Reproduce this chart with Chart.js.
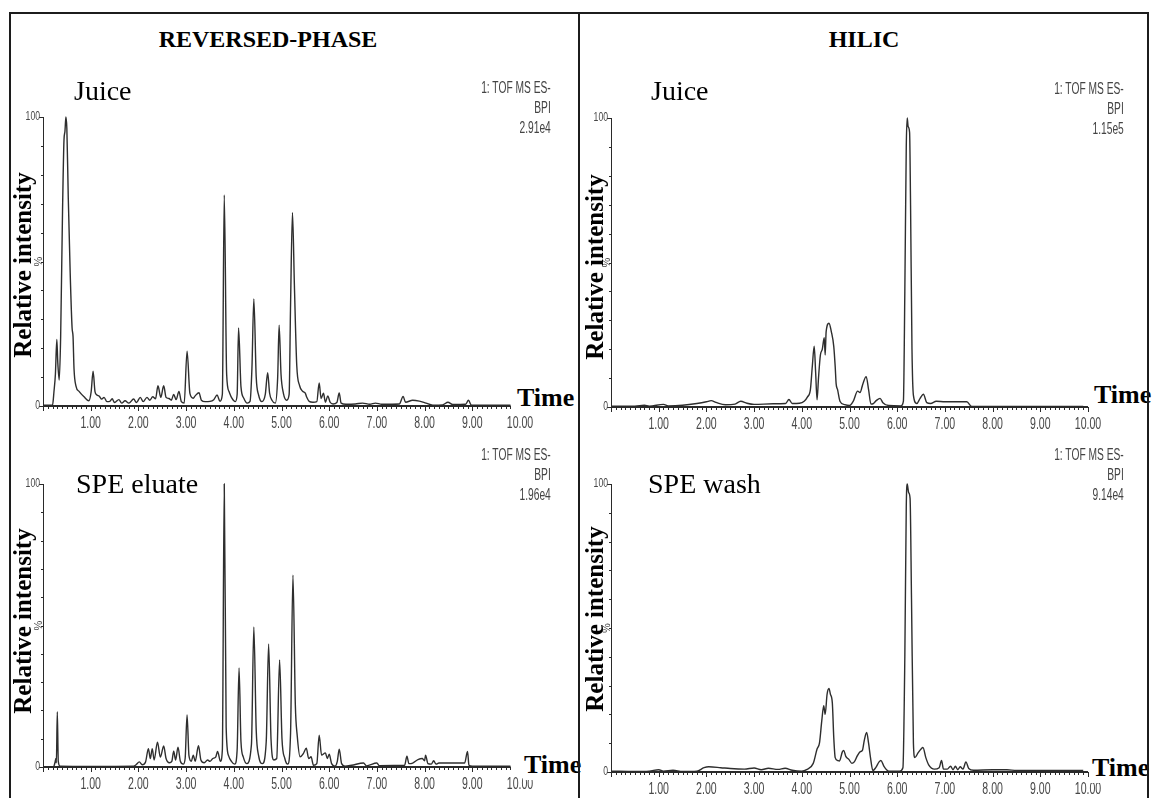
<!DOCTYPE html>
<html>
<head>
<meta charset="utf-8">
<title>Chromatograms</title>
<script src="https://cdn.jsdelivr.net/npm/chart.js@4.4.1/dist/chart.umd.min.js"></script>
<style>
  html, body { margin: 0; padding: 0; background: #fff; }
  #page { position: relative; width: 1152px; height: 798px; overflow: hidden; background: #fff; }
  canvas { position: absolute; }
  .rule { position: absolute; background: #1c1c1c; z-index: 5; }
  .t { position: absolute; white-space: nowrap; line-height: 1; color: #000; z-index: 3; }
  .head { font: bold 24px "Liberation Serif", serif; transform: translateX(-50%); }
  .sample { font: 28px "Liberation Serif", serif; }
  .yname { font: bold 25px "Liberation Serif", serif; transform: translate(-50%, -50%) rotate(-90deg); }
  .time { font: bold 26px "Liberation Serif", serif; background: #fff; padding: 0 2px 0 1px; }
  .acq { font: 16px "Liberation Sans", Arial, sans-serif; color: #444; text-align: right;
         line-height: 20px; transform: scaleX(0.64); transform-origin: right top; }
</style>
</head>
<body>
<div id="page">
  <div class="rule" style="left:9px; top:12px; width:2px; height:786px"></div>
  <div class="rule" style="left:9px; top:12px; width:1140px; height:2px"></div>
  <div class="rule" style="left:1147px; top:12px; width:2px; height:786px"></div>
  <div class="rule" style="left:578px; top:12px; width:2px; height:786px"></div>

  <div class="t head" style="left:268px; top:26px">REVERSED-PHASE</div>
  <div class="t head" style="left:864px; top:26px">HILIC</div>

  <canvas id="rpJuice" width="545" height="340" style="left:0px; top:100px"></canvas>
  <canvas id="hilicJuice" width="545" height="340" style="left:568px; top:101px"></canvas>
  <canvas id="rpEluate" width="545" height="334" style="left:0px; top:467px"></canvas>
  <canvas id="hilicWash" width="545" height="339" style="left:568px; top:467px"></canvas>

  <div class="t sample" style="left:74px; top:75px">Juice</div>
  <div class="t sample" style="left:651px; top:75px">Juice</div>
  <div class="t sample" style="left:76px; top:468px">SPE eluate</div>
  <div class="t sample" style="left:648px; top:468px">SPE wash</div>

  <div class="t acq" style="right:601px; top:78px">1: TOF MS ES-<br>BPI<br>2.91e4</div>
  <div class="t acq" style="right:28px; top:79px">1: TOF MS ES-<br>BPI<br>1.15e5</div>
  <div class="t acq" style="right:601px; top:445px">1: TOF MS ES-<br>BPI<br>1.96e4</div>
  <div class="t acq" style="right:28px; top:445px">1: TOF MS ES-<br>BPI<br>9.14e4</div>

  <div class="t yname" style="left:23px; top:265px">Relative intensity</div>
  <div class="t yname" style="left:595px; top:267px">Relative intensity</div>
  <div class="t yname" style="left:23px; top:621px">Relative intensity</div>
  <div class="t yname" style="left:595px; top:619px">Relative intensity</div>

  <div class="t time" style="left:516px; top:383px">Time</div>
  <div class="t time" style="left:1093px; top:380px">Time</div>
  <div class="t time" style="left:523px; top:750px">Time</div>
  <div class="t time" style="left:1091px; top:753px">Time</div>
</div>

<script>
// axis ticks
const timeTicks = [1, 2, 3, 4, 5, 6, 7, 8, 9, 10];
const timeLabels = ['1.00', '2.00', '3.00', '4.00', '5.00', '6.00', '7.00', '8.00', '9.00', '10.00'];
const intensityTicks = [0, 100];
const intensityLabels = ['0', '100'];

// reversed-phase, juice (min / % of base peak)
const rpJuiceTime = [
  0.00, 0.20, 0.23, 0.26, 0.29, 0.31, 0.34, 0.37, 0.41, 0.44, 0.46, 0.48, 0.50, 0.53, 0.57, 0.61,
  0.63, 0.65, 0.69, 0.76, 0.86, 0.96, 1.01, 1.05, 1.09, 1.13, 1.18, 1.23, 1.28, 1.34, 1.40, 1.45,
  1.50, 1.59, 1.65, 1.72, 1.80, 1.90, 1.96, 2.04, 2.10, 2.18, 2.24, 2.30, 2.36, 2.41, 2.47, 2.53,
  2.58, 2.64, 2.69, 2.74, 2.79, 2.85, 2.90, 2.96, 3.02, 3.08, 3.15, 3.19, 3.27, 3.32, 3.40, 3.50,
  3.58, 3.65, 3.71, 3.76, 3.80, 3.85, 3.90, 3.96, 4.03, 4.07, 4.10, 4.15, 4.21, 4.28, 4.34, 4.38,
  4.42, 4.47, 4.52, 4.59, 4.66, 4.71, 4.75, 4.80, 4.87, 4.92, 4.95, 4.99, 5.04, 5.11, 5.16, 5.19,
  5.23, 5.27, 5.32, 5.38, 5.45, 5.50, 5.53, 5.58, 5.66, 5.74, 5.79, 5.83, 5.88, 5.92, 5.97, 6.02,
  6.08, 6.16, 6.21, 6.25, 6.35, 6.55, 6.70, 6.85, 6.97, 7.10, 7.47, 7.55, 7.60, 7.75, 7.89, 8.03,
  8.17, 8.38, 8.49, 8.59, 8.86, 8.92, 8.98, 9.80
];
const rpJuiceInt = [
  0.3, 0.3, 5, 11, 23, 15, 9, 24, 68, 92, 95, 100, 96, 72, 46, 27,
  24, 13, 7, 5, 3.2, 1.8, 5, 12, 5, 3.8, 3.4, 2.4, 3, 1.5, 1.6, 2.5,
  1.2, 2.2, 1, 1.8, 1, 2.4, 1.2, 3, 1.5, 3, 2, 3.2, 2.5, 7, 3, 7,
  3, 2.6, 2, 4, 2.2, 5, 1.5, 1, 19, 4.4, 2.7, 3.5, 4.6, 2, 1.5, 1.6,
  2.2, 3.8, 1.6, 4, 73, 11, 5, 2.7, 1.5, 4, 27, 6.7, 2.7, 1, 1.6, 13,
  37, 10, 3.8, 1.5, 4, 11.5, 4.5, 2, 1, 10, 28, 11, 4.4, 2, 4, 35,
  67, 42, 14, 7, 5, 4.4, 3, 1.6, 1.3, 1.5, 8, 2.6, 4.4, 1.3, 3.5, 1.3,
  0.7, 1.2, 4.5, 1, 0.6, 0.7, 1, 0.6, 1, 0.6, 0.7, 3.3, 1.3, 2, 1.7, 1,
  0.3, 0.4, 1.3, 0.5, 0.6, 2, 0.3, 0.3
];

// reversed-phase, SPE eluate
const rpEluateTime = [
  0.00, 0.22, 0.25, 0.27, 0.28, 0.30, 0.32, 0.36, 1.00, 1.90, 1.95, 2.02, 2.08, 2.15, 2.21, 2.25,
  2.29, 2.33, 2.40, 2.46, 2.53, 2.58, 2.65, 2.70, 2.74, 2.78, 2.83, 2.88, 2.94, 2.98, 3.02, 3.06,
  3.11, 3.15, 3.19, 3.26, 3.31, 3.38, 3.45, 3.50, 3.56, 3.62, 3.66, 3.72, 3.76, 3.80, 3.84, 3.89,
  3.95, 4.02, 4.07, 4.11, 4.15, 4.20, 4.27, 4.37, 4.42, 4.47, 4.52, 4.60, 4.68, 4.73, 4.78, 4.84,
  4.90, 4.96, 5.01, 5.07, 5.13, 5.19, 5.24, 5.29, 5.33, 5.39, 5.46, 5.52, 5.57, 5.62, 5.67, 5.74,
  5.79, 5.84, 5.92, 5.96, 6.00, 6.05, 6.12, 6.17, 6.21, 6.26, 6.33, 6.47, 6.72, 6.78, 7.00, 7.05,
  7.58, 7.63, 7.67, 7.75, 7.86, 7.95, 8.00, 8.02, 8.07, 8.14, 8.19, 8.24, 8.30, 8.84, 8.90, 8.93,
  9.00, 9.80
];
const rpEluateInt = [
  0, 0, 1.5, 3, 1.5, 19.5, 2, 0.3, 0.2, 0.3, 0.8, 1.8, 0.8, 1.8, 6.5, 3,
  6.5, 2.5, 8.8, 3.5, 7.4, 3, 1.5, 2, 5.6, 2.5, 7, 2, 1, 3, 18.4, 4,
  2, 4.2, 2, 7.5, 2.5, 1.5, 2.5, 2, 3, 3.5, 5.5, 2, 6, 100, 14, 4,
  2, 1, 6, 35, 9, 3.5, 1.2, 8, 49.5, 13, 4, 1.2, 9, 43.5, 10, 2.5,
  3, 37.8, 10, 3, 1, 12, 67.8, 22, 11, 3.6, 4.8, 6.6, 3, 3.6, 0.6, 1.2,
  11.2, 4.2, 5, 3, 4.5, 1.2, 0.3, 2, 6.3, 1.2, 0.3, 0.6, 1.4, 0.4, 1.4, 0.5,
  0.6, 3.8, 1.2, 1.4, 2.6, 3, 2.2, 4.2, 1.2, 1, 2.2, 1, 1.4, 1.4, 5.5, 0.6,
  0.3, 0.3
];

// HILIC, juice
const hilicJuiceTime = [
  0.00, 0.50, 0.70, 0.80, 1.10, 1.20, 1.50, 1.80, 2.00, 2.10, 2.20, 2.40, 2.60, 2.72, 2.85, 3.00,
  3.40, 3.66, 3.73, 3.80, 3.95, 4.05, 4.12, 4.18, 4.22, 4.26, 4.29, 4.32, 4.35, 4.39, 4.43, 4.47,
  4.49, 4.51, 4.57, 4.62, 4.67, 4.70, 4.72, 4.75, 4.80, 4.90, 5.00, 5.08, 5.17, 5.22, 5.28, 5.35,
  5.40, 5.45, 5.50, 5.56, 5.64, 5.70, 5.82, 6.08, 6.13, 6.16, 6.19, 6.21, 6.23, 6.26, 6.28, 6.31,
  6.34, 6.41, 6.48, 6.55, 6.62, 6.70, 6.82, 7.00, 7.20, 7.46, 7.56, 9.90
];
const hilicJuiceInt = [
  0.3, 0.3, 0.6, 0.3, 0.9, 0.4, 0.6, 1.2, 1.8, 2.2, 1.6, 0.8, 1.0, 2.0, 1.3, 0.9,
  1.1, 1.2, 2.6, 1.2, 1.3, 2, 3.5, 6, 14, 21, 12, 2.5, 10, 18, 20, 24,
  18, 26, 29, 26, 21, 14, 8, 6, 2, 0.8, 0.5, 2, 5.5, 5, 8, 10.5,
  6, 1, 1.2, 2.2, 3, 1.5, 0.5, 0.4, 2, 40, 90, 100, 97, 95, 70, 20,
  4, 1.2, 3, 4.4, 1.5, 1.2, 2, 1.8, 1.8, 1.8, 0.2, 0.2
];

// HILIC, SPE wash
const hilicWashTime = [
  0.00, 0.50, 0.80, 1.00, 1.10, 1.30, 1.50, 1.80, 1.95, 2.05, 2.30, 2.50, 2.80, 3.00, 3.15, 3.30,
  3.50, 3.65, 3.80, 4.00, 4.10, 4.24, 4.32, 4.37, 4.42, 4.46, 4.49, 4.53, 4.57, 4.60, 4.64, 4.67,
  4.70, 4.75, 4.79, 4.85, 4.88, 4.92, 4.99, 5.05, 5.10, 5.16, 5.22, 5.27, 5.31, 5.36, 5.40, 5.44,
  5.49, 5.55, 5.62, 5.66, 5.72, 5.82, 6.05, 6.12, 6.16, 6.19, 6.21, 6.24, 6.27, 6.30, 6.34, 6.37,
  6.44, 6.50, 6.54, 6.60, 6.66, 6.78, 6.88, 6.93, 6.97, 7.05, 7.12, 7.17, 7.22, 7.27, 7.32, 7.38,
  7.44, 7.50, 7.60, 8.00, 8.30, 8.50, 9.90
];
const hilicWashInt = [
  0.3, 0.2, 0.3, 0.8, 0.3, 0.6, 0.2, 0.3, 1.5, 1.8, 1.5, 1.2, 1.0, 1.4, 0.8, 1.3,
  0.9, 1.3, 0.6, 0.3, 0.8, 3, 8, 10, 18, 23, 20, 27, 29, 27, 24, 12,
  5, 4, 3.8, 7, 7.5, 5.5, 4.3, 3, 3.5, 5.5, 7, 7.5, 11, 13.7, 10, 5,
  0.5, 1.5, 3.5, 4, 2, 0.3, 0.3, 1.5, 40, 92, 100, 97, 95, 60, 10, 5,
  6.7, 8, 8.5, 5, 2.5, 1, 1.5, 4, 1, 1, 2, 0.8, 2, 0.8, 1.8, 1,
  3.5, 1.2, 0.6, 0.8, 0.8, 0.5, 0.5
];

// draw text squeezed horizontally, like the instrument software's narrow font
function narrowText(ctx, text, x, y, sx) {
  ctx.save();
  ctx.translate(x, y);
  ctx.scale(sx, 1);
  ctx.fillText(text, 0, 0);
  ctx.restore();
}

// MassLynx-style axes: dense minor ticks, only 0/100 on the intensity axis
const massLynxAxes = {
  id: 'massLynxAxes',
  afterDraw(chart, args, opts) {
    const { ctx, chartArea: a, scales: { x, y } } = chart;
    const top = y.getPixelForValue(100);
    ctx.save();
    ctx.strokeStyle = '#2a2a2a';
    ctx.lineWidth = 1;
    for (const tk of x.ticks) {
      if (tk.value > opts.axisEnd + 1e-6) continue;
      const tenth = Math.round(tk.value * 10);
      const len = tenth % 10 === 0 ? 5 : 3;
      const px = Math.round(x.getPixelForValue(tk.value)) + 0.5;
      ctx.beginPath();
      ctx.moveTo(px, a.bottom);
      ctx.lineTo(px, a.bottom + len);
      ctx.stroke();
    }
    for (const tk of y.ticks) {
      const py = Math.round(y.getPixelForValue(tk.value)) + 0.5;
      const len = (tk.value === 0 || tk.value === 100) ? 4 : 2;
      ctx.beginPath();
      ctx.moveTo(a.left - len, py);
      ctx.lineTo(a.left, py);
      ctx.stroke();
    }
    ctx.beginPath();
    ctx.moveTo(a.left + 0.5, top);
    ctx.lineTo(a.left + 0.5, a.bottom);
    ctx.stroke();
    ctx.lineWidth = 2;
    ctx.beginPath();
    ctx.moveTo(a.left, a.bottom);
    ctx.lineTo(x.getPixelForValue(opts.axisEnd), a.bottom);
    ctx.stroke();

    ctx.fillStyle = '#474747';
    ctx.textBaseline = 'middle';
    ctx.textAlign = 'center';
    ctx.font = '16px "Liberation Sans", Arial, sans-serif';
    timeTicks.forEach((v, i) => narrowText(ctx, timeLabels[i], x.getPixelForValue(v), a.bottom + 18, 0.66));
    ctx.textAlign = 'right';
    ctx.font = '12px "Liberation Sans", Arial, sans-serif';
    intensityTicks.forEach((v, i) => narrowText(ctx, intensityLabels[i], a.left - 3, y.getPixelForValue(v), 0.72));
    ctx.translate(a.left - 4, (top + a.bottom) / 2);
    ctx.rotate(-Math.PI / 2);
    ctx.textAlign = 'center';
    ctx.font = '11px "Liberation Sans", Arial, sans-serif';
    ctx.fillText('%', 0, 0);
    ctx.restore();
  }
};

function chromatogram(id, time, intensity, axisEnd) {
  return new Chart(document.getElementById(id), {
    type: 'line',
    data: {
      datasets: [{
        data: time.map((t, i) => ({ x: t, y: intensity[i] })),
        borderColor: '#2e2e2e',
        borderWidth: 1.4,
        pointRadius: 0,
        cubicInterpolationMode: 'monotone',
        fill: false,
        clip: 6
      }]
    },
    options: {
      responsive: false,
      animation: false,
      events: [],
      layout: { padding: { left: 0, right: 25, top: 17, bottom: 0 } },
      plugins: {
        legend: { display: false },
        tooltip: { enabled: false },
        massLynxAxes: { axisEnd: axisEnd }
      },
      scales: {
        x: {
          type: 'linear', min: 0, max: 10,
          ticks: { display: false, stepSize: 0.1 },
          grid: { display: false },
          border: { display: false },
          afterFit: s => { s.height = 34; }
        },
        y: {
          min: 0, max: 100,
          ticks: { display: false, stepSize: 10 },
          grid: { display: false },
          border: { display: false },
          afterFit: s => { s.width = 43; }
        }
      }
    },
    plugins: [massLynxAxes]
  });
}

chromatogram('rpJuice', rpJuiceTime, rpJuiceInt, 9.8);
chromatogram('hilicJuice', hilicJuiceTime, hilicJuiceInt, 10);
chromatogram('rpEluate', rpEluateTime, rpEluateInt, 9.8);
chromatogram('hilicWash', hilicWashTime, hilicWashInt, 10);
</script>
</body>
</html>
